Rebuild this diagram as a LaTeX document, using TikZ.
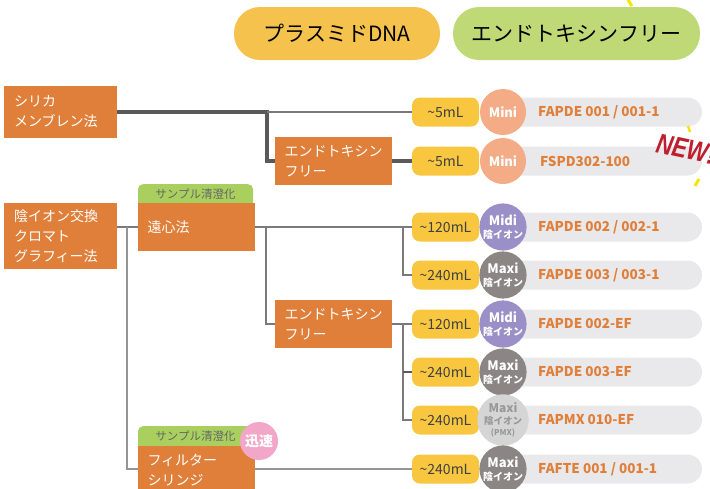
\documentclass[tikz,border=0pt]{standalone}
\usepackage{fontspec}
\setmainfont{Noto Sans CJK JP}
\newfontfamily\badgefont{Liberation Sans}
\usetikzlibrary{positioning, backgrounds, calc}

\definecolor{boxorange}{HTML}{E07F3A}
\definecolor{tabgreen}{HTML}{A9CF5F}
\definecolor{hdryellow}{HTML}{F5C24E}
\definecolor{hdrgreen}{HTML}{BFD977}
\definecolor{pillyellow}{HTML}{F8C63F}
\definecolor{minisalmon}{HTML}{F4AC86}
\definecolor{midipurple}{HTML}{9A8FC6}
\definecolor{maxigray}{HTML}{8B8683}
\definecolor{pmxgray}{HTML}{D6D5D5}
\definecolor{bargray}{HTML}{E9E9EB}
\definecolor{newred}{HTML}{BE1E2D}
\definecolor{rapidpink}{HTML}{F2A6C8}
\definecolor{linegray}{HTML}{7A7A7A}
\definecolor{thickgray}{HTML}{5A5A5A}
\definecolor{raysyellow}{HTML}{F5E400}

\tikzset{
	method/.style={rectangle, fill=boxorange, text=white, align=left, inner xsep=10pt, 
	inner ysep=0pt, font=\fontsize{14}{20}\selectfont},
	tab/.style={rectangle, fill=tabgreen, rounded corners=5pt, text=black!60, anchor=north, 
	inner xsep=0pt, inner ysep=3pt, text height=11pt, text depth=8pt, minimum width=115pt, 
	font=\fontsize{11.5}{12}\selectfont},
	volume/.style={rectangle, fill=pillyellow, rounded corners=8pt, minimum width=67pt, 
	minimum height=29pt, inner sep=0pt, text=black!75, font=\fontsize{14}{14}\selectfont},
	bar/.style={rectangle, fill=bargray, rounded corners=14.5pt, minimum width=212pt, 
	minimum height=29pt, inner sep=0pt},
	product/.style={anchor=west, inner sep=0pt, text=boxorange, 
	font=\bfseries\fontsize{13.5}{14}\selectfont},
	kit/.style={circle, minimum size=46pt, inner sep=0pt, text=white, align=center, 
	font=\bfseries\fontsize{13}{13.5}\selectfont},
	header/.style={rectangle, rounded corners=26pt, minimum height=53pt, inner sep=0pt, 
	font=\fontsize{21}{21}\selectfont},
	link/.style={draw=linegray, line width=1.3pt},
	thicklink/.style={draw=thickgray, line width=4pt}
}

\newcommand{\anion}{{\fontsize{10}{10}\selectfont 陰イオン}}

\begin{document}
\begin{tikzpicture}[x=1pt, y=-1pt]

			\useasboundingbox (0,0) rectangle (710,488);
			\clip (0,0) rectangle (710,488);

			%Headers
			\node (plasmid) at (337,33.5) [header, fill=hdryellow, minimum width=206pt]{プラスミドDNA};
			\node (endofree) at (576.5,33.5) [header, fill=hdrgreen, minimum width=247pt]{エンドトキシンフリー};

			%Silica membrane
			\node (silica) at (60.5,112) [method, text width=93pt, minimum height=52pt]{シリカ\\メンブレン法};

			%Endotoxin free (silica)
			\node (endoSilica) at (333.5,161) [method, inner xsep=9.5pt, text width=98pt, 
			minimum height=48pt]{エンドトキシン\\フリー};

			%Anion exchange
			\node (anion) at (60.5,236) [method, text width=93pt, minimum height=66pt]{陰イオン交換\\クロマト\\グラフィー法};

			%Centrifuge
			\node (centriTab) at (195.5,184) [tab]{サンプル清澄化};
			\node (centri) at (196.5,227) [method, inner xsep=9.5pt, text width=98pt, 
			minimum height=48pt]{遠心法};

			%Endotoxin free (anion)
			\node (endoAnion) at (333.5,324) [method, inner xsep=9.5pt, text width=98pt, 
			minimum height=48pt]{エンドトキシン\\フリー};

			%Filter syringe
			\node (filterTab) at (195.5,426) [tab]{サンプル清澄化};
			\node (filter) at (196.5,470.5) [method, inner xsep=9.5pt, text width=98pt, 
			minimum height=49pt]{フィルター\\シリンジ};
			\node (rapid) at (259,441) [circle, fill=rapidpink, minimum size=38pt, inner sep=0pt, 
			text=white, font=\bfseries\fontsize{14}{14}\selectfont]{迅速};

			%Product bars
			\node (bar1) at (596,112) [bar]{};
			\node (bar2) at (596,161) [bar]{};
			\node (bar3) at (596,227) [bar]{};
			\node (bar4) at (596,275) [bar]{};
			\node (bar5) at (596,324) [bar]{};
			\node (bar6) at (596,372) [bar]{};
			\node (bar7) at (596,420) [bar]{};
			\node (bar8) at (596,469) [bar]{};

			\node (prod1) at (538,112) [product]{FAPDE 001 / 001-1};
			\node (prod2) at (540,161) [product]{FSPD302-100};
			\node (prod3) at (538,227) [product]{FAPDE 002 / 002-1};
			\node (prod4) at (538,275) [product]{FAPDE 003 / 003-1};
			\node (prod5) at (538,324) [product]{FAPDE 002-EF};
			\node (prod6) at (538,372) [product]{FAPDE 003-EF};
			\node (prod7) at (538,420) [product]{FAPMX 010-EF};
			\node (prod8) at (538,469) [product]{FAFTE 001 / 001-1};

			%Volumes
			\node (vol1) at (445.5,112) [volume]{\textasciitilde5mL};
			\node (vol2) at (445.5,161) [volume]{\textasciitilde5mL};
			\node (vol3) at (445.5,227) [volume]{\textasciitilde120mL};
			\node (vol4) at (445.5,275) [volume]{\textasciitilde240mL};
			\node (vol5) at (445.5,324) [volume]{\textasciitilde120mL};
			\node (vol6) at (445.5,372) [volume]{\textasciitilde240mL};
			\node (vol7) at (445.5,420) [volume]{\textasciitilde240mL};
			\node (vol8) at (445.5,469) [volume]{\textasciitilde240mL};

			%Kit sizes
			\node (kit1) at (503,112) [kit, fill=minisalmon]{Mini};
			\node (kit2) at (503,161) [kit, fill=minisalmon]{Mini};
			\node (kit3) at (503,227) [kit, fill=midipurple]{Midi\\\anion};
			\node (kit4) at (503,275) [kit, fill=maxigray]{Maxi\\\anion};
			\node (kit5) at (503,324) [kit, fill=midipurple]{Midi\\\anion};
			\node (kit6) at (503,372) [kit, fill=maxigray]{Maxi\\\anion};
			\node (kit7) at (503,420) [kit, fill=pmxgray, text=black!40, 
			font=\bfseries\fontsize{12}{11.5}\selectfont]{Maxi\\{\fontsize{9.5}{11.5}\selectfont 陰イオン}\\{\fontsize{8}{11.5}\selectfont (PMX)}};
			\node (kit8) at (503,469) [kit, fill=maxigray]{Maxi\\\anion};

			%New mark
			\draw[raysyellow, line width=3pt] (628,0) -- (632,6);
			\draw[raysyellow, line width=2.5pt] (688,126) -- (690,132);
			\draw[raysyellow, line width=3pt] (699,179) -- (695,186);
			\node (newMark) at (686,149) [rotate=-12, xscale=0.8, text=newred, 
			font=\badgefont\bfseries\itshape\fontsize{28}{28}\selectfont]{NEW!};

			%Links
			\begin{scope}[on background layer]
			\coordinate (silicaSplit) at (267,112);
			\draw[thicklink] (silica.east) -- (silicaSplit) |- (endoSilica.west);
			\draw[link] (silicaSplit) -- (vol1.west);
			\draw[thicklink] (endoSilica.east) -- (vol2.west);

			\coordinate (anionSplit) at (127,227);
			\draw[link] (anion.east |- centri.west) -- (centri.west);
			\draw[link, draw=linegray!80] (anionSplit) |- (vol8.west);

			\coordinate (centriSplit) at (266,227);
			\coordinate (centriVol) at (403,227);
			\draw[link] (centri.east) -- (vol3.west);
			\draw[link] (centriSplit) |- (endoAnion.west);
			\draw[link] (centriVol) |- (vol4.west);

			\coordinate (endoVol) at (403,324);
			\draw[link] (endoAnion.east) -- (vol5.west);
			\draw[link] (endoVol) |- (vol7.west);
			\draw[link, draw=thickgray, line width=2pt] (endoVol |- vol6.west) -- (vol6.west);
			\end{scope}

\end{tikzpicture}
\end{document}
